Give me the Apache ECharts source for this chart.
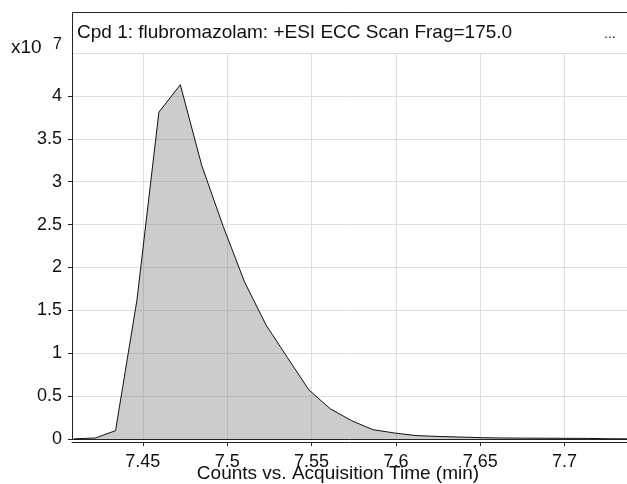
<!DOCTYPE html>
<html>
<head>
<meta charset="utf-8">
<script src="https://cdn.jsdelivr.net/npm/echarts@6/dist/echarts.min.js"></script>
<style>
html,body{margin:0;padding:0;background:#fff;}
#chart{width:627px;height:484px;}
</style>
</head>
<body>
<div id="chart"></div>
<script>
// Acquisition time (min)
const times = [7.4091, 7.4218, 7.4338, 7.4465, 7.4595, 7.4722, 7.4849, 7.4976, 7.5103, 7.5230,
  7.5357, 7.5484, 7.5611, 7.5738, 7.5865, 7.5992, 7.6119, 7.6246, 7.6373, 7.6500,
  7.6627, 7.6754, 7.6881, 7.7008, 7.7135, 7.7262, 7.7389];
// Counts (x10^7)
const counts = [0.002, 0.012, 0.097, 1.62, 3.81, 4.13, 3.19, 2.48, 1.83, 1.33,
  0.95, 0.573, 0.352, 0.213, 0.108, 0.07, 0.040, 0.030, 0.023, 0.016,
  0.012, 0.010, 0.009, 0.008, 0.007, 0.003, 0.002];
const xMin = 7.408, xMax = 7.737;
const yMin = 0, yMax = 4.5, yStep = 0.5;
const chartTitle = 'Cpd 1: flubromazolam: +ESI ECC Scan Frag=175.0';
const xName = 'Counts vs. Acquisition Time (min)';

const FONT = '"Liberation Sans", Arial, sans-serif';
const G = {left: 72, top: 53, right: 0, bottom: 45};
const frameTop = 12.5;

const chart = echarts.init(document.getElementById('chart'), null, {renderer: 'canvas'});
const data = times.map((t, i) => [t, counts[i]]);

const ts = (size) => ({fontFamily: FONT, fontSize: size, fontWeight: 'normal', color: '#111'});

chart.setOption({
  animation: false,
  backgroundColor: '#fff',
  grid: {left: G.left, top: G.top, right: G.right, bottom: G.bottom, containLabel: false},
  title: [
    {text: chartTitle, left: 72, top: 18, textStyle: ts(19)},
    {text: '...', left: 599, top: 22, textStyle: ts(14)},
    {text: 'x10', left: 6, top: 33, textStyle: ts(19)},
    {text: '7', left: 48, top: 32, textStyle: ts(16)},
    {text: xName, left: 333, textAlign: 'center', top: 459, textStyle: ts(19)}
  ],
  xAxis: [{
    type: 'value', min: xMin, max: xMax, offset: 3,
    axisLine: {onZero: false, lineStyle: {color: '#222', width: 1}},
    axisTick: {show: true, length: 4, lineStyle: {color: '#222'}},
    axisLabel: {showMinLabel: false, showMaxLabel: false, margin: 11, fontFamily: FONT, fontSize: 18, color: '#111'},
    splitLine: {show: true, lineStyle: {color: '#dedede', width: 1}}
  }, {
    type: 'value', min: xMin, max: xMax, position: 'bottom',
    axisLine: {show: true, onZero: false, lineStyle: {color: '#222', width: 1}},
    axisTick: {show: false}, axisLabel: {show: false}, splitLine: {show: false}
  }],
  yAxis: {
    type: 'value', min: yMin, max: yMax, interval: yStep,
    axisLine: {show: true, lineStyle: {color: '#222', width: 1}},
    axisTick: {show: true, length: 4, lineStyle: {color: '#222'}},
    axisLabel: {showMaxLabel: false, margin: 10, fontFamily: FONT, fontSize: 18, color: '#111'},
    splitLine: {show: true, lineStyle: {color: '#dedede', width: 1}}
  },
  series: [{
    type: 'line', data: data, xAxisIndex: 0, symbol: 'none', smooth: false,
    lineStyle: {color: '#111', width: 1},
    areaStyle: {color: 'rgba(120,120,120,0.38)', opacity: 1, origin: 'start'},
    z: 1
  }],
  graphic: [{
    type: 'polyline', silent: true, z: 100,
    shape: {points: [[G.left + 0.5, G.top], [G.left + 0.5, frameTop], [627, frameTop]]},
    style: {stroke: '#222', lineWidth: 1, fill: null}
  }]
});
</script>
</body>
</html>
